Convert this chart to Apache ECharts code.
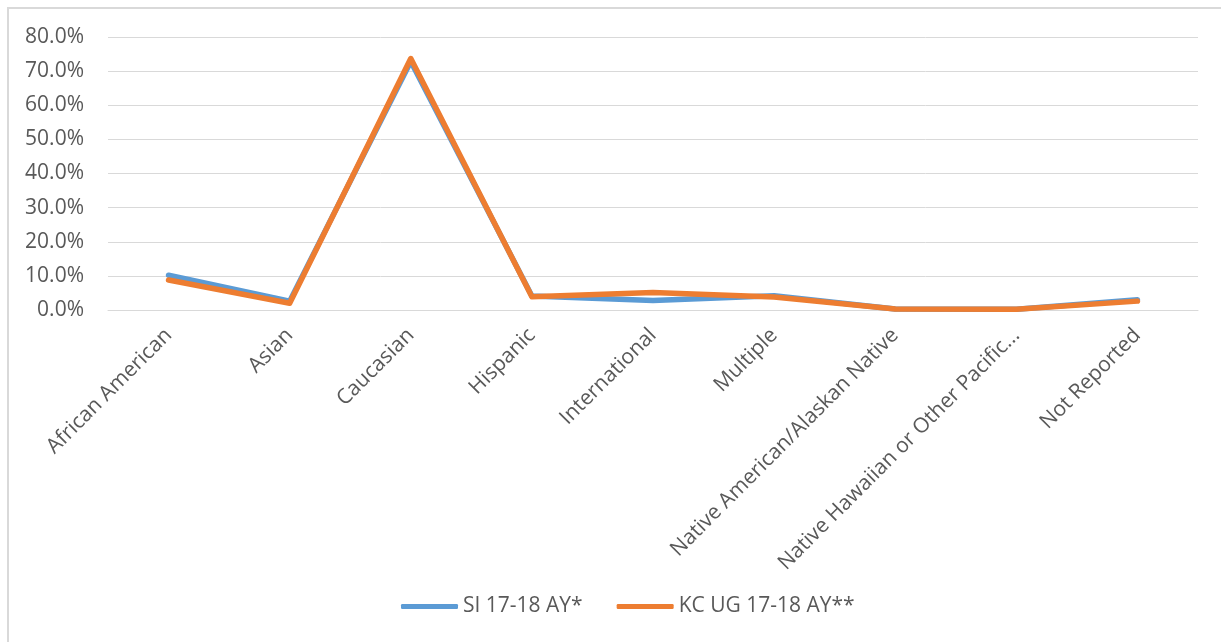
<!DOCTYPE html>
<html>
<head>
<meta charset="utf-8">
<script src="https://cdn.jsdelivr.net/npm/echarts@6/dist/echarts.min.js"></script>
<style>
  html, body { margin: 0; padding: 0; background: #ffffff; overflow: hidden; width: 1221px; height: 642px; }
  #frame { position: absolute; left: 7px; top: 7px; width: 1260px; height: 680px; border: 2px solid #d9d9d9; box-sizing: border-box; }
  #chart { position: absolute; left: 0; top: 0; width: 1221px; height: 642px; }
</style>
</head>
<body>
<div id="frame"></div>
<div id="chart"></div>
<script>
// Ethnicity breakdown, share of students (%)
const categories = [
  'African American', 'Asian', 'Caucasian', 'Hispanic', 'International',
  'Multiple', 'Native American/Alaskan Native', 'Native Hawaiian or Other Pacific...', 'Not Reported'
];
const siValues = [10.2, 2.6, 72.8, 4.1, 2.8, 4.2, 0.3, 0.2, 3.0];
const kcValues = [8.8, 2.0, 73.7, 3.9, 5.1, 3.8, 0.3, 0.2, 2.6];
const seriesNames = ['SI 17-18 AY*', 'KC UG 17-18 AY**'];
const yTicks = { min: 0, max: 80, interval: 10 };

const font = 'Open Sans';
const textColor = '#595959';

const chart = echarts.init(document.getElementById('chart'), null, { renderer: 'canvas' });
chart.setOption({
  animation: false,
  color: ['#5B9BD5', '#ED7D31'],
  textStyle: { fontFamily: font },
  grid: { left: 108, right: 23, top: 37, bottom: 332, containLabel: false },
  legend: {
    bottom: 20,
    left: 396,
    icon: 'roundRect',
    itemWidth: 57,
    itemHeight: 5,
    itemGap: 34,
    textStyle: { fontFamily: font, fontSize: 21, color: textColor },
    data: seriesNames
  },
  xAxis: {
    type: 'category',
    data: categories,
    boundaryGap: true,
    axisLine: { show: true, lineStyle: { color: '#d9d9d9', width: 1 } },
    axisTick: { show: false },
    axisLabel: {
      rotate: 45,
      interval: 0,
      margin: 22,
      fontFamily: font,
      fontSize: 21,
      color: textColor
    }
  },
  yAxis: {
    type: 'value',
    min: yTicks.min,
    max: yTicks.max,
    interval: yTicks.interval,
    axisLine: { show: false },
    axisTick: { show: false },
    splitLine: { lineStyle: { color: '#d9d9d9', width: 1 } },
    axisLabel: {
      margin: 24,
      fontFamily: font,
      fontSize: 21,
      color: textColor,
      formatter: v => v.toFixed(1) + '%'
    }
  },
  series: [
    {
      name: seriesNames[0],
      type: 'line',
      data: siValues,
      showSymbol: false,
      symbol: 'none',
      lineStyle: { width: 5.5, cap: 'round', join: 'round' }
    },
    {
      name: seriesNames[1],
      type: 'line',
      data: kcValues,
      showSymbol: false,
      symbol: 'none',
      lineStyle: { width: 5.5, cap: 'round', join: 'round' }
    }
  ]
});
</script>
</body>
</html>
